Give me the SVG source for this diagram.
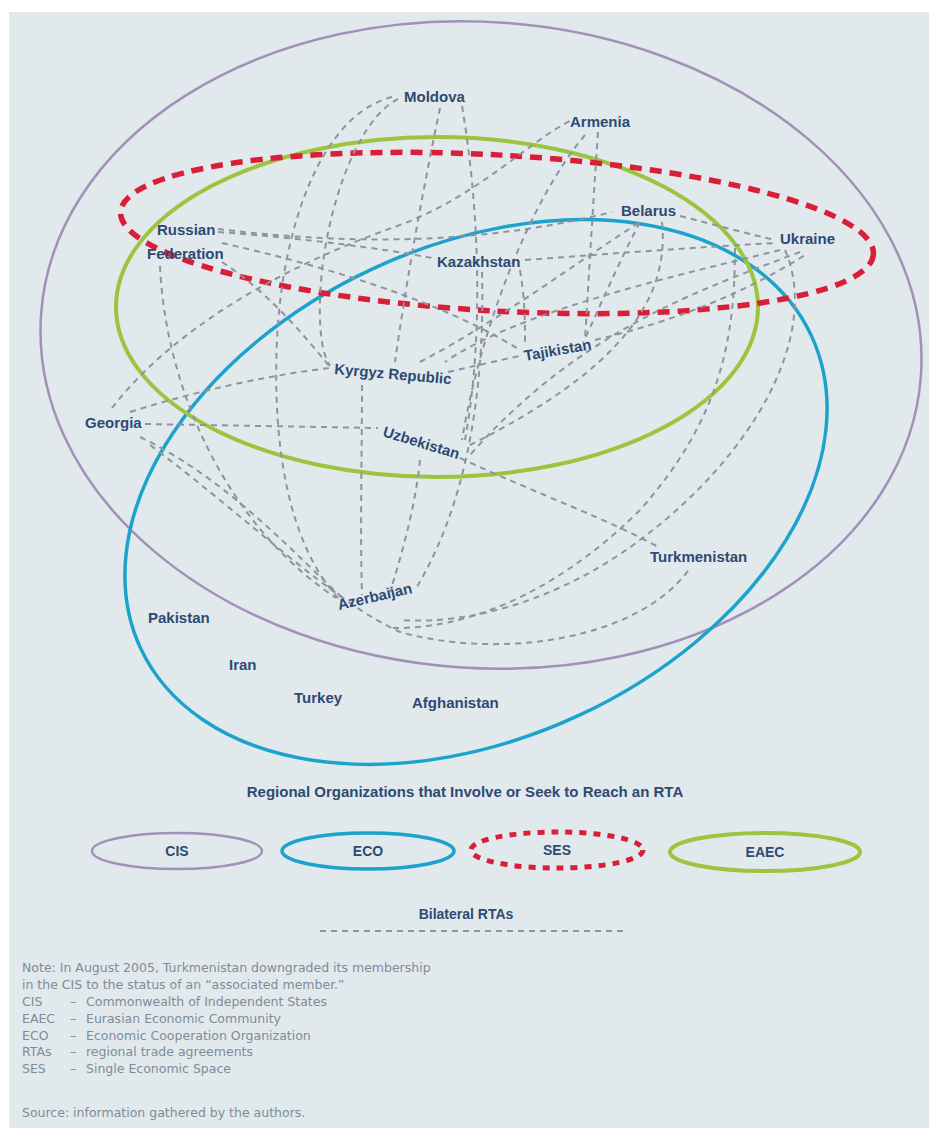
<svg xmlns="http://www.w3.org/2000/svg" width="929" height="1128" viewBox="0 0 929 1128">
<defs>
<style>
.bg{fill:#e1e9ed}
.cis{fill:none;stroke:#a48fb8;stroke-width:2.5}
.eco{fill:none;stroke:#1ba3cb;stroke-width:3.5}
.eaec{fill:none;stroke:#9cc43e;stroke-width:4}
.ses{fill:none;stroke:#d91f38;stroke-width:5.5;stroke-dasharray:12 8}
.sesL{fill:none;stroke:#d91f38;stroke-width:5;stroke-dasharray:7 7}
.rta{fill:none;stroke:#8e949b;stroke-width:2;stroke-dasharray:6 5}
.lbl{font-family:"Liberation Sans",Arial,sans-serif;font-size:15px;font-weight:bold;fill:#2e4a72}
.leg{font-family:"Liberation Sans",Arial,sans-serif;font-size:14px;font-weight:bold;fill:#2e4a72;text-anchor:middle}
.ttl{font-size:15px}
.note{font-family:"DejaVu Sans",Verdana,sans-serif;font-size:12.5px;fill:#7d8c98}
</style>
</defs>
<rect x="0" y="0" width="929" height="1128" fill="#ffffff"/>
<rect class="bg" x="9" y="12" width="920" height="1116"/>

<g id="organizations">
<ellipse id="cis" class="cis" cx="481" cy="345" rx="441" ry="323" transform="rotate(4 481 345)"/>
<ellipse id="eco" class="eco" cx="476" cy="492" rx="370" ry="246" transform="rotate(-25 476 492)"/>
<ellipse id="eaec" class="eaec" cx="437" cy="307" rx="321" ry="170"/>
<ellipse id="ses" class="ses" cx="497" cy="233" rx="377" ry="78" transform="rotate(3.2 497 233)"/>
</g>

<g id="connectors">
<path class="rta" d="M392,97 C320,115 282,230 277,340 C272,450 290,545 338,598"/>
<path class="rta" d="M398,99 C355,120 322,220 320,300 C319,335 323,355 330,366"/>
<path class="rta" d="M440,108 C425,180 408,270 395,362"/>
<path class="rta" d="M462,106 C478,200 485,330 465,440"/>
<path class="rta" d="M112,408 C180,320 300,260 400,225 C480,195 530,140 572,120"/>
<path class="rta" d="M598,132 C592,220 588,290 585,340"/>
<path class="rta" d="M585,135 C530,200 480,330 462,440"/>
<path class="rta" d="M218,232 C300,238 380,248 432,258"/>
<path class="rta" d="M222,243 C320,265 440,300 520,350"/>
<path class="rta" d="M222,262 C265,290 300,330 330,367"/>
<path class="rta" d="M160,266 C165,380 220,520 336,598"/>
<path class="rta" d="M218,229 C350,245 480,245 612,212"/>
<path class="rta" d="M525,260 C620,253 700,247 775,243"/>
<path class="rta" d="M680,216 C715,225 745,233 775,240"/>
<path class="rta" d="M780,250 C680,275 520,310 445,362"/>
<path class="rta" d="M800,252 C700,290 580,330 470,455"/>
<path class="rta" d="M785,250 C820,330 760,450 640,540 C560,600 470,625 400,620"/>
<path class="rta" d="M735,248 C735,340 720,420 640,510 C570,580 480,630 390,628"/>
<path class="rta" d="M662,222 C670,300 620,370 470,445"/>
<path class="rta" d="M640,222 C610,280 590,330 583,342"/>
<path class="rta" d="M595,340 C680,320 750,290 805,255"/>
<path class="rta" d="M520,270 C525,300 525,320 525,345"/>
<path class="rta" d="M482,272 C485,380 470,500 415,590"/>
<path class="rta" d="M362,385 C362,450 360,530 362,595"/>
<path class="rta" d="M420,460 C415,510 400,560 390,592"/>
<path class="rta" d="M145,424 L378,428"/>
<path class="rta" d="M130,412 C200,390 270,375 330,368"/>
<path class="rta" d="M140,437 C230,480 300,560 345,600"/>
<path class="rta" d="M150,445 C250,520 330,600 400,632 C500,660 640,640 690,568"/>
<path class="rta" d="M460,458 C540,495 610,520 660,548"/>
<path class="rta" d="M448,372 C475,366 500,360 520,356"/>
<path class="rta" d="M420,362 C500,320 580,260 640,222"/>
</g>

<g id="n-moldova"><text class="lbl" x="404" y="102">Moldova</text></g>
<g id="n-armenia"><text class="lbl" x="570" y="127">Armenia</text></g>
<g id="n-belarus"><text class="lbl" x="621" y="216">Belarus</text></g>
<g id="n-ukraine"><text class="lbl" x="780" y="244">Ukraine</text></g>
<g id="n-russia"><text class="lbl" x="157" y="235">Russian</text><text class="lbl" x="147" y="259">Federation</text></g>
<g id="n-kazakhstan"><text class="lbl" x="437" y="267">Kazakhstan</text></g>
<g id="n-kyrgyz"><text class="lbl" x="334" y="374" transform="rotate(5 334 374)">Kyrgyz Republic</text></g>
<g id="n-uzbekistan"><text class="lbl" x="382" y="436" transform="rotate(17 382 436)">Uzbekistan</text></g>
<g id="n-tajikistan"><text class="lbl" x="525" y="361" transform="rotate(-10 525 361)">Tajikistan</text></g>
<g id="n-georgia"><text class="lbl" x="85" y="428">Georgia</text></g>
<g id="n-azerbaijan"><text class="lbl" x="339" y="610" transform="rotate(-13 339 610)">Azerbaijan</text></g>
<g id="n-turkmenistan"><text class="lbl" x="650" y="562">Turkmenistan</text></g>
<g id="n-pakistan"><text class="lbl" x="148" y="623">Pakistan</text></g>
<g id="n-iran"><text class="lbl" x="229" y="670">Iran</text></g>
<g id="n-turkey"><text class="lbl" x="294" y="703">Turkey</text></g>
<g id="n-afghanistan"><text class="lbl" x="412" y="708">Afghanistan</text></g>

<g id="legend">
<text class="leg ttl" x="465" y="797">Regional Organizations that Involve or Seek to Reach an RTA</text>
<ellipse class="cis" cx="177" cy="851" rx="85" ry="18"/>
<text class="leg" x="177" y="856">CIS</text>
<ellipse class="eco" cx="368" cy="851" rx="86" ry="18"/>
<text class="leg" x="368" y="856">ECO</text>
<ellipse class="sesL" cx="557" cy="850" rx="86" ry="18"/>
<text class="leg" x="557" y="855">SES</text>
<ellipse class="eaec" cx="765" cy="852" rx="95" ry="19"/>
<text class="leg" x="765" y="857">EAEC</text>
<text class="leg" x="466" y="919">Bilateral RTAs</text>
<line class="rta" x1="320" y1="931" x2="625" y2="931"/>
</g>

<g id="notes">
<text class="note" x="22" y="972">Note: In August 2005, Turkmenistan downgraded its membership</text>
<text class="note" x="22" y="989">in the CIS to the status of an “associated member.”</text>
<text class="note" x="22" y="1006">CIS</text><text class="note" x="70" y="1006">–</text><text class="note" x="86" y="1006">Commonwealth of Independent States</text>
<text class="note" x="22" y="1023">EAEC</text><text class="note" x="70" y="1023">–</text><text class="note" x="86" y="1023">Eurasian Economic Community</text>
<text class="note" x="22" y="1040">ECO</text><text class="note" x="70" y="1040">–</text><text class="note" x="86" y="1040">Economic Cooperation Organization</text>
<text class="note" x="22" y="1056">RTAs</text><text class="note" x="70" y="1056">–</text><text class="note" x="86" y="1056">regional trade agreements</text>
<text class="note" x="22" y="1073">SES</text><text class="note" x="70" y="1073">–</text><text class="note" x="86" y="1073">Single Economic Space</text>
<text class="note" x="22" y="1117">Source: information gathered by the authors.</text>
</g>
</svg>
